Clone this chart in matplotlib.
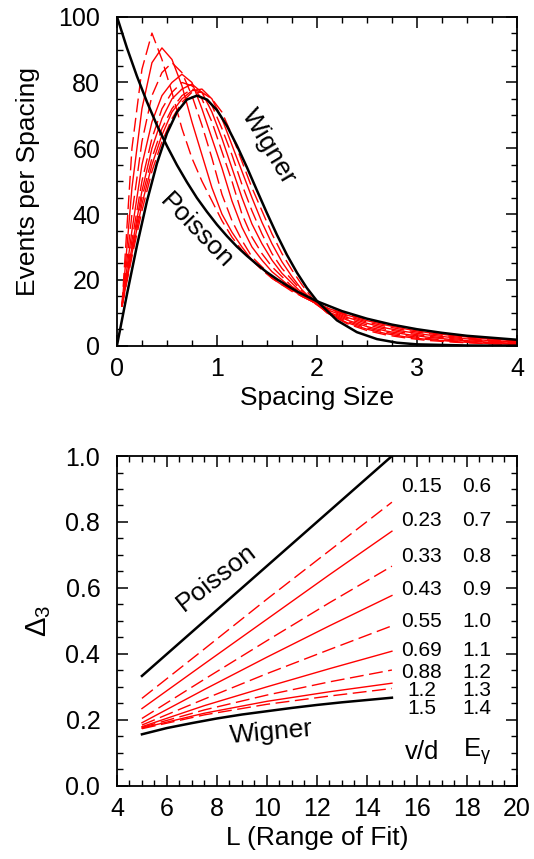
import numpy as np
import matplotlib
matplotlib.use("Agg")
import matplotlib.pyplot as plt
from matplotlib.ticker import MultipleLocator, FormatStrFormatter

plt.rcParams['font.family'] = ['Liberation Sans', 'DejaVu Sans']
plt.rcParams['mathtext.fontset'] = 'custom'
plt.rcParams['mathtext.rm'] = 'Liberation Sans'
plt.rcParams['mathtext.it'] = 'Liberation Sans'

# ---- top panel: spacing distributions ----
s_poisson = [0, 0.1, 0.2, 0.3, 0.4, 0.5, 0.6, 0.7, 0.8, 0.9, 1.0, 1.1, 1.2, 1.3, 1.4,
             1.5, 1.6, 1.7, 1.8, 1.9, 2.0, 2.25, 2.5, 2.75, 3.0, 3.25, 3.5, 3.75, 4.0]
p_poisson = [100, 90.5, 81.9, 74.1, 67.0, 60.7, 54.9, 49.7, 44.9, 40.7, 36.8, 33.3, 30.1,
             27.3, 24.7, 22.3, 20.2, 18.3, 16.5, 15.0, 13.5, 10.5, 8.2, 6.4, 5.0, 3.9,
             3.0, 2.4, 1.8]

s_wigner = [0, 0.1, 0.2, 0.3, 0.4, 0.5, 0.6, 0.7, 0.8, 0.9, 1.0, 1.1, 1.2, 1.3, 1.4,
            1.5, 1.6, 1.7, 1.8, 1.9, 2.0, 2.2, 2.4, 2.6, 2.8, 3.0, 3.5, 4.0]
p_wigner = [0, 15.6, 30.4, 43.9, 55.4, 64.5, 71.0, 74.8, 76.0, 74.8, 71.6, 66.8, 60.8,
            54.2, 47.2, 40.3, 33.7, 27.6, 22.2, 17.5, 13.6, 7.7, 4.1, 2.0, 0.9, 0.4,
            0.05, 0.0]

s_bins = [0.05, 0.15, 0.25, 0.35, 0.45, 0.55, 0.65, 0.75, 0.85, 0.95, 1.05, 1.15, 1.25,
          1.35, 1.45, 1.55, 1.65, 1.75, 1.85, 1.95, 2.1, 2.3, 2.5, 2.7, 2.9, 3.1, 3.4,
          3.7, 4.0]
p_red = [
    [12, 60, 84, 95, 87, 77, 66, 57, 50, 44, 38, 33, 29, 26, 23, 20.5, 18.5, 16.5, 15,
     13.5, 11.5, 9.5, 8, 6.5, 5.4, 4.4, 3.2, 2.3, 1.6],
    [12, 48, 72, 86, 90.5, 87, 79, 68, 58, 48, 40, 34.5, 30, 26, 23.5, 20.5, 18.5, 17,
     15, 13.5, 11.5, 9.3, 7.6, 6.2, 5.0, 4.0, 2.9, 2.1, 1.5],
    [12, 40, 62, 76, 83, 86, 83, 76, 67, 57, 46, 38, 32, 27, 24, 21, 19, 17, 15, 13.5,
     11.3, 9.0, 7.2, 5.8, 4.6, 3.7, 2.6, 1.8, 1.3],
    [12, 35, 55, 68, 76, 80, 82.5, 80, 72, 63, 54, 44, 36, 30, 26, 22.5, 20, 17.5, 15.5,
     13.5, 11.0, 8.6, 6.8, 5.3, 4.2, 3.3, 2.3, 1.6, 1.1],
    [12, 32, 50, 63, 72, 77, 80, 79, 75, 68, 59, 50, 40, 33, 28, 24, 21, 18, 16, 13.5,
     10.8, 8.2, 6.3, 4.9, 3.8, 2.9, 2.0, 1.4, 0.9],
    [12, 30, 47, 60, 69, 75, 78, 79.5, 77, 71, 63, 54, 45, 37, 31, 26, 22, 19, 16, 13.5,
     10.5, 7.8, 5.8, 4.4, 3.4, 2.6, 1.7, 1.1, 0.7],
    [12, 29, 45, 57, 66, 72, 76, 78, 77, 73, 66, 58, 49, 41, 34, 28, 23.5, 20, 16.5,
     13.5, 10.2, 7.4, 5.4, 4.0, 3.0, 2.2, 1.4, 0.9, 0.5],
    [12, 28, 43, 55, 64, 71, 75, 77.5, 78, 75, 69, 61, 53, 45, 37.5, 31, 25.5, 21, 17,
     14, 10.0, 7.0, 5.0, 3.6, 2.6, 1.9, 1.2, 0.7, 0.4],
    [12, 27, 41, 53, 62, 69, 74, 77, 77, 75, 71, 64, 56, 48, 41, 34, 28, 23, 18.5,
     14.5, 10.0, 6.7, 4.6, 3.2, 2.3, 1.6, 1.0, 0.6, 0.3],
]

# ---- bottom panel: Delta_3 statistic ----
L_poisson = [5, 15]
d3_poisson = [0.333, 1.0]
L_wigner = [5, 6, 7, 8, 9, 10, 11, 12, 13, 14, 15]
d3_wigner = [0.156, 0.175, 0.190, 0.204, 0.216, 0.226, 0.236, 0.245, 0.253, 0.260, 0.267]
L_red = [5, 7.5, 10, 12.5, 15]
d3_red = [
    [0.265, 0.415, 0.566, 0.713, 0.860],
    [0.234, 0.370, 0.505, 0.640, 0.772],
    [0.204, 0.323, 0.440, 0.555, 0.666],
    [0.191, 0.292, 0.390, 0.485, 0.577],
    [0.184, 0.263, 0.340, 0.413, 0.485],
    [0.179, 0.243, 0.300, 0.355, 0.408],
    [0.177, 0.230, 0.275, 0.315, 0.351],
    [0.175, 0.220, 0.256, 0.285, 0.311],
    [0.173, 0.215, 0.247, 0.272, 0.295],
]
vd_labels = ['0.15', '0.23', '0.33', '0.43', '0.55', '0.69', '0.88', '1.2', '1.5']
eg_labels = ['0.6', '0.7', '0.8', '0.9', '1.0', '1.1', '1.2', '1.3', '1.4']
label_y = [0.907, 0.803, 0.695, 0.596, 0.497, 0.409, 0.344, 0.290, 0.235]

fig = plt.figure(figsize=(5.34, 8.59), dpi=100)
ax1 = fig.add_axes([0.219, 0.5976, 0.749, 0.383])
ax2 = fig.add_axes([0.219, 0.0853, 0.749, 0.3838])

dash = (0, (10, 4))
for i, vals in enumerate(p_red):
    ls = dash if i % 2 == 0 else '-'
    ax1.plot(s_bins, vals, color='red', lw=1.0, ls=ls)
ax1.plot(s_poisson, p_poisson, color='black', lw=1.8)
ax1.plot(s_wigner, p_wigner, color='black', lw=1.8)
ax1.text(1.52, 60.5, 'Wigner', rotation=-59, fontsize=19, ha='center', va='center')
ax1.text(0.8, 35, 'Poisson', rotation=-46, fontsize=19, ha='center', va='center')
ax1.set_xlim(0, 4)
ax1.set_ylim(0, 100)
ax1.xaxis.set_major_locator(MultipleLocator(1))
ax1.xaxis.set_minor_locator(MultipleLocator(0.25))
ax1.yaxis.set_major_locator(MultipleLocator(20))
ax1.yaxis.set_minor_locator(MultipleLocator(5))
ax1.set_xlabel('Spacing Size', fontsize=19, labelpad=4)
ax1.set_ylabel('Events per Spacing', fontsize=19, labelpad=13)

for i, vals in enumerate(d3_red):
    ls = dash if i % 2 == 0 else '-'
    ax2.plot(L_red, vals, color='red', lw=1.0, ls=ls)
ax2.plot(L_poisson, d3_poisson, color='black', lw=1.8)
ax2.plot(L_wigner, d3_wigner, color='black', lw=1.8)
ax2.text(8.0, 0.63, 'Poisson', rotation=38, fontsize=19, ha='center', va='center')
ax2.text(10.2, 0.163, 'Wigner', rotation=5, fontsize=19, ha='center', va='center')
for vd, eg, y in zip(vd_labels, eg_labels, label_y):
    ax2.text(16.2, y, vd, fontsize=15, ha='center', va='center')
    ax2.text(18.4, y, eg, fontsize=15, ha='center', va='center')
ax2.text(16.2, 0.103, 'v/d', fontsize=18.5, ha='center', va='center')
ax2.text(18.4, 0.103, r'E$_\gamma$', fontsize=18.5, ha='center', va='center')
ax2.set_xlim(4, 20)
ax2.set_ylim(0, 1)
ax2.xaxis.set_major_locator(MultipleLocator(2))
ax2.xaxis.set_minor_locator(MultipleLocator(0.5))
ax2.yaxis.set_major_locator(MultipleLocator(0.2))
ax2.yaxis.set_minor_locator(MultipleLocator(0.05))
ax2.yaxis.set_major_formatter(FormatStrFormatter('%.1f'))
ax2.set_xlabel('L (Range of Fit)', fontsize=19, labelpad=4)
ax2.set_ylabel(r'$\Delta_3$', fontsize=21, labelpad=9)

for ax in (ax1, ax2):
    ax.tick_params(which='both', direction='in', top=True, right=True, labelsize=18)
    ax.tick_params(axis='x', which='both', pad=8)
    ax.tick_params(axis='y', which='both', pad=12)
    ax.tick_params(which='major', length=8, width=1.1)
    ax.tick_params(which='minor', length=4.5, width=1.0)
    for sp in ax.spines.values():
        sp.set_linewidth(1.3)

fig.savefig('out.png', dpi=100)
